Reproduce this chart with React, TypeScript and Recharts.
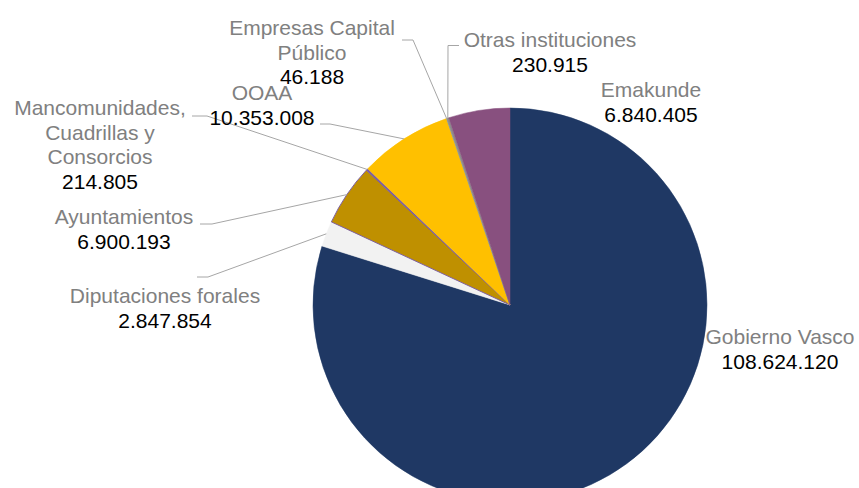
import { PieChart, Pie, Cell } from "recharts"

// Presupuesto por institución (clockwise from 12 o'clock)
const categories = [
  "Gobierno Vasco",
  "Diputaciones forales",
  "Ayuntamientos",
  "Mancomunidades, Cuadrillas y Consorcios",
  "OOAA",
  "Empresas Capital Público",
  "Otras instituciones",
  "Emakunde",
]
const values = [108624120, 2847854, 6900193, 214805, 10353008, 46188, 230915, 6840405]
const colors = ["#1F3864", "#F2F2F2", "#BF9000", "#7E60A0", "#FFC000", "#9AA39A", "#8C8C8C", "#88507F"]

const CX = 510
const CY = 305
const R = 197
const FONT = "'Liberation Sans', Arial, sans-serif"
const LINE_H = 24.7

// label placement: x = text centre, y = first baseline, wrap = max chars per row,
// line = [label end, elbow] of the leader line (the other end is on the pie edge)
const labelLayout: { x: number; y: number; wrap: number; line?: number[][] }[] = [
  { x: 780, y: 344, wrap: 40 },
  { x: 165, y: 303, wrap: 40, line: [[197, 277], [208, 277]] },
  { x: 124, y: 224, wrap: 40, line: [[200, 224], [212, 224]] },
  { x: 100, y: 115, wrap: 15, line: [[192, 116], [207, 116]] },
  { x: 262, y: 100, wrap: 40, line: [[320, 124], [330, 124]] },
  { x: 312, y: 35, wrap: 16, line: [[402, 40], [413, 40]] },
  { x: 550, y: 47, wrap: 40, line: [[459, 45.5], [448, 45.5]] },
  { x: 651, y: 97, wrap: 40 },
]

const data = categories.map((name, i) => ({ name, value: values[i] }))

const fmt = (v: number) => String(v).replace(/\B(?=(\d{3})+(?!\d))/g, ".")

function wrap(text: string, max: number) {
  const rows: string[] = []
  let cur = ""
  for (const w of text.split(" ")) {
    const next = cur ? cur + " " + w : w
    if (next.length > max && cur) {
      rows.push(cur)
      cur = w
    } else cur = next
  }
  if (cur) rows.push(cur)
  return rows
}

const renderLabel = (props: any) => {
  const { midAngle, index } = props
  const L = labelLayout[index]
  const rad = Math.PI / 180
  const ex = CX + R * Math.cos(-midAngle * rad)
  const ey = CY + R * Math.sin(-midAngle * rad)
  const rows = [...wrap(categories[index], L.wrap), fmt(values[index])]
  return (
    <g key={"lbl-" + index}>
      {L.line && (
        <polyline
          points={`${ex},${ey} ${L.line[1][0]},${L.line[1][1]} ${L.line[0][0]},${L.line[0][1]}`}
          stroke="#A6A6A6"
          strokeWidth={1}
          fill="none"
        />
      )}
      <text x={L.x} y={L.y} textAnchor="middle" fontFamily={FONT} fontSize={21}>
        {rows.map((r, i) => (
          <tspan key={i} x={L.x} dy={i === 0 ? 0 : LINE_H} fill={i === rows.length - 1 ? "#000000" : "#808080"}>
            {r}
          </tspan>
        ))}
      </text>
    </g>
  )
}

export default function App() {
  return (
    <div style={{ position: "absolute", left: 0, top: 0, width: 859, height: 488, background: "#fff" }}>
      <PieChart width={859} height={488} margin={{ top: 0, right: 0, bottom: 0, left: 0 }}>
        <Pie
          data={data}
          dataKey="value"
          nameKey="name"
          cx={CX}
          cy={CY}
          outerRadius={R}
          startAngle={90}
          endAngle={-270}
          isAnimationActive={false}
          label={renderLabel}
          labelLine={false}
        >
          {data.map((d, i) => (
            <Cell
              key={d.name}
              fill={colors[i]}
              stroke={i === 2 ? "#7E60A0" : colors[i]}
              strokeWidth={i === 2 ? 1 : 0.5}
            />
          ))}
        </Pie>
      </PieChart>
    </div>
  )
}
